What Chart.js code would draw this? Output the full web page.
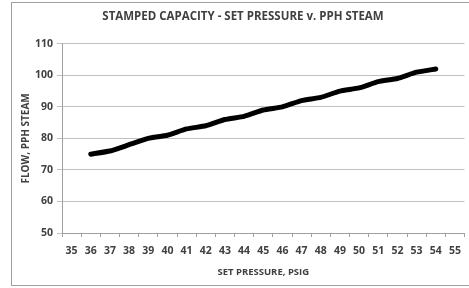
<!DOCTYPE html>
<html><head><meta charset="utf-8">
<script src="https://cdn.jsdelivr.net/npm/chart.js@4"></script>
<style>
html,body{margin:0;padding:0;background:#fff;}
#wrap{position:relative;width:469px;height:288px;overflow:hidden;}
#frame{position:absolute;left:11px;top:2px;width:470px;height:284px;border:1px solid #a0a0a0;box-sizing:border-box;}
canvas{position:absolute;left:0;top:0;}
</style></head>
<body><div id="wrap"><div id="frame"></div><canvas id="c" width="469" height="288"></canvas></div>
<script>
const titleText = "STAMPED CAPACITY - SET PRESSURE v. PPH STEAM";
const xTitle = "SET PRESSURE, PSIG";
const yTitle = "FLOW, PPH STEAM";
const pressures = ["35","36","37","38","39","40","41","42","43","44","45","46","47","48","49","50","51","52","53","54","55"];
const flow = [null,75,76,78,80,81,83,84,86,87,89,90,92,93,95,96,98,99,101,102,null];
const yMin = 50, yMax = 110, yStep = 10;

const fontFam = "'Open Sans', sans-serif";
const txt = "#404040";
new Chart(document.getElementById('c'), {
  type: 'line',
  data: { labels: pressures, datasets: [{ data: flow, borderColor: '#000', borderWidth: 5, pointRadius: 0, tension: 0.15, borderCapStyle: 'round', borderJoinStyle: 'round', spanGaps: false }] },
  options: {
    responsive: false, animation: false,
    layout: { padding: { left: 20, right: 3, top: 0, bottom: 10 } },
    plugins: {
      legend: { display: false }, tooltip: { enabled: false },
      title: { display: true, text: titleText, color: txt, font: { family: fontFam, size: 11.5, weight: 'bold' }, padding: { top: 10, bottom: 20 } }
    },
    scales: {
      x: {
        offset: true,
        grid: { offset: true, drawOnChartArea: false, tickLength: 4, color: '#a0a0a0' },
        border: { color: '#a0a0a0' },
        ticks: { color: txt, font: { family: fontFam, size: 10.5, weight: 'bold' }, padding: 8, maxRotation: 0, autoSkip: false },
        title: { display: true, text: xTitle, color: txt, font: { family: fontFam, size: 9.5, weight: 'bold' }, padding: { top: 2, bottom: 0 } },
        afterFit: s => { s.height = 45; }
      },
      y: {
        min: yMin, max: yMax,
        grid: { color: '#c0c0c0', tickLength: 5 },
        border: { color: '#a0a0a0' },
        ticks: { stepSize: yStep, color: txt, font: { family: fontFam, size: 10.5, weight: 'bold' }, padding: 4 },
        title: { display: true, text: yTitle, color: txt, font: { family: fontFam, size: 10, weight: 'bold' }, padding: { top: 0, bottom: 2 } },
        afterFit: s => { s.width = 42; }
      }
    }
  }
});
</script></body></html>
